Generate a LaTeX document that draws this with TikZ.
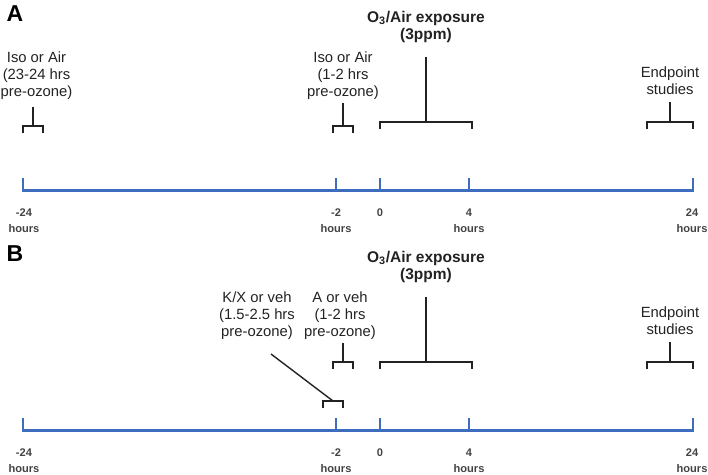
\documentclass[tikz,border=0pt]{standalone}
\usepackage{fontspec}
\setmainfont{Liberation Sans}
\definecolor{axisblue}{RGB}{62,108,190}
\definecolor{brk}{RGB}{34,34,34}
\begin{document}
\begin{tikzpicture}[x=1pt,y=-1pt,
  axis/.style={draw=axisblue,line width=2.2pt},
  brack/.style={draw=brk,line width=1.4pt},
  lbl/.style={align=center,inner sep=0pt,font=\fontsize{14.8}{17}\selectfont,text=brk},
  boldlbl/.style={align=center,inner sep=0pt,font=\fontsize{15.5}{17.5}\selectfont\bfseries,text=brk},
  tick/.style={align=center,inner sep=0pt,font=\fontsize{11.1}{16}\selectfont\bfseries,text=brk!85},
  panel/.style={inner sep=0pt,font=\fontsize{23}{23}\selectfont\bfseries}]
\useasboundingbox (0,0) rectangle (708,474);
\foreach \p/\dy in {A/0,B/240}{
  \node[panel] (pl\p) at (15,14+\dy) {\p};
  % axis
  \coordinate (\p l) at (23,178+\dy);
  \coordinate (\p r) at (693,178+\dy);
  \draw[axis] (\p l) -- (23,190.5+\dy) -- (693,190.5+\dy) -- (\p r);
  \foreach \x in {336,380,469}{\draw[axis] (\x,178+\dy) -- (\x,190.5+\dy);}
  % tick labels
  \node[tick] (\p t1) at (24,221+\dy) {-24\\hours};
  \node[tick] (\p t2) at (336,221+\dy) {-2\\hours};
  \node[tick] (\p t3) at (380,213+\dy) {0};
  \node[tick] (\p t4) at (469,221+\dy) {4\\hours};
  \node[tick] (\p t5) at (692,221+\dy) {24\\hours};
  % ozone exposure
  \node[boldlbl] (\p oz) at (426,27+\dy) {O\textsubscript{3}/Air exposure\\(3ppm)};
  \coordinate (\p ozs) at (426,57+\dy);
  \draw[brack] (\p ozs) -- (426,122+\dy);
  \draw[brack] (380,129+\dy) -- (380,122+\dy) -- (472,122+\dy) -- (472,129+\dy);
  % endpoint
  \node[lbl] (\p ep) at (670,81+\dy) {Endpoint\\studies};
  \coordinate (\p eps) at (670,102+\dy);
  \draw[brack] (\p eps) -- (670,122+\dy);
  \draw[brack] (647,129+\dy) -- (647,122+\dy) -- (693,122+\dy) -- (693,129+\dy);
}
% Panel A pre-treatments
\node[lbl] (a1) at (36.5,76) {Iso or Air\\(23-24 hrs\\pre-ozone)};
\coordinate (a1s) at (33,107);
\draw[brack] (a1s) -- (33,126);
\draw[brack] (23,133) -- (23,126) -- (43,126) -- (43,133);
\node[lbl] (a2) at (343,76) {Iso or Air\\(1-2 hrs\\pre-ozone)};
\coordinate (a2s) at (343,103);
\draw[brack] (a2s) -- (343,126);
\draw[brack] (333,133) -- (333,126) -- (353,126) -- (353,133);
% Panel B pre-treatments
\node[lbl] (b1) at (257,316) {K/X or veh\\(1.5-2.5 hrs\\pre-ozone)};
\coordinate (b1s) at (271,354);
\coordinate (b1e) at (333,401);
\draw[brack] (b1s) -- (b1e);
\draw[brack] (323,408) -- (323,401) -- (343,401) -- (343,408);
\node[lbl] (b2) at (340,316) {A or veh\\(1-2 hrs\\pre-ozone)};
\coordinate (b2s) at (343,343);
\draw[brack] (b2s) -- (343,362);
\draw[brack] (333,369) -- (333,362) -- (353,362) -- (353,369);
\end{tikzpicture}
\end{document}
